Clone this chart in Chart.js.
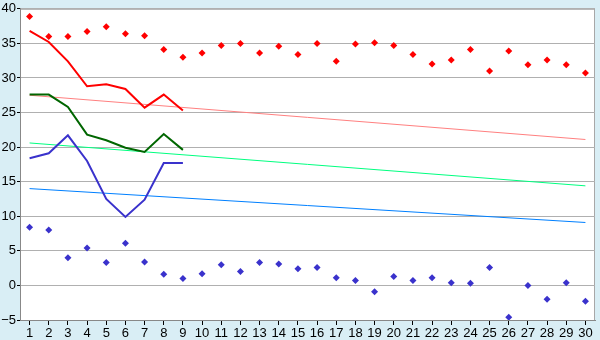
<!DOCTYPE html>
<html>
<head>
<meta charset="utf-8">
<script src="https://cdn.jsdelivr.net/npm/chart.js@4"></script>
<style>
  html, body { margin: 0; padding: 0; background: #d9eef5; }
  #wrap { width: 600px; height: 340px; }
</style>
</head>
<body>
<div id="wrap"><canvas id="chart" width="600" height="340"></canvas></div>
<script>
// ── DATA ─────────────────────────────────────────
const days = Array.from({ length: 30 }, (_, i) => String(i + 1));

const highPoints = [38.9, 36.0, 36.0, 36.7, 37.4, 36.4, 36.1, 34.1, 33.0, 33.6,
                    34.7, 35.0, 33.6, 34.6, 33.4, 35.0, 32.4, 34.9, 35.1, 34.7,
                    33.4, 32.0, 32.6, 34.1, 31.0, 33.9, 31.9, 32.6, 31.9, 30.7];
const lowPoints  = [8.4, 8.0, 4.0, 5.4, 3.3, 6.1, 3.4, 1.6, 1.0, 1.7,
                    3.0, 2.0, 3.3, 3.1, 2.4, 2.6, 1.1, 0.7, -0.9, 1.3,
                    0.7, 1.1, 0.4, 0.3, 2.6, -4.6, 0.0, -2.0, 0.4, -2.3];

const redLine   = [36.8, 35.2, 32.4, 28.8, 29.1, 28.4, 25.7, 27.6, 25.3];
const greenLine = [27.6, 27.6, 25.8, 21.8, 21.0, 19.9, 19.3, 21.9, 19.6];
const blueLine  = [18.4, 19.1, 21.7, 18.0, 12.5, 9.9, 12.4, 17.7, 17.7];

// trend lines: value at day 1 and day 30
const redTrend   = [27.5, 21.1];
const greenTrend = [20.6, 14.4];
const blueTrend  = [14.0, 9.1];

const yMin = -5, yMax = 40, yStep = 5;

// ── HELPERS ──────────────────────────────────────
function padTo30(arr) {
  return days.map((_, i) => (i < arr.length ? arr[i] : null));
}
function ends(pair) {
  return days.map((_, i) => (i === 0 ? pair[0] : i === days.length - 1 ? pair[1] : null));
}

const plotBg = {
  id: 'plotBg',
  beforeDraw(chart) {
    const { ctx, chartArea: a } = chart;
    ctx.save();
    ctx.fillStyle = '#d9eef5';
    ctx.fillRect(0, 0, chart.width, chart.height);
    ctx.fillStyle = '#ffffff';
    ctx.fillRect(a.left, a.top, a.right - a.left, a.bottom - a.top);
    ctx.strokeStyle = '#a8a8a8';
    ctx.lineWidth = 1;
    ctx.strokeRect(a.left + 0.5, a.top + 0.5, a.right - a.left - 1, a.bottom - a.top);
    ctx.restore();
  },
};

function lineSet(data, color, width, order) {
  return {
    data, borderColor: color, backgroundColor: color, borderWidth: width,
    pointRadius: 0, fill: false, tension: 0, spanGaps: true, order,
  };
}
function pointSet(data, color) {
  return {
    data, showLine: false, borderColor: color, backgroundColor: color,
    pointStyle: 'rectRot', pointRadius: 3.5, borderWidth: 0, order: 0,
  };
}

const font = { family: 'Liberation Sans', size: 13 };

// ── CHART ────────────────────────────────────────
new Chart(document.getElementById('chart').getContext('2d'), {
  type: 'line',
  data: {
    labels: days,
    datasets: [
      pointSet(highPoints, '#ff0000'),
      pointSet(lowPoints, '#3a32cc'),
      lineSet(padTo30(redLine), '#ff0000', 2, 1),
      lineSet(padTo30(greenLine), '#006600', 2, 1),
      lineSet(padTo30(blueLine), '#3a32cc', 2, 1),
      lineSet(ends(redTrend), '#ff8080', 1, 2),
      lineSet(ends(greenTrend), '#00ff80', 1, 2),
      lineSet(ends(blueTrend), '#0080ff', 1, 2),
    ],
  },
  options: {
    responsive: false,
    animation: false,
    layout: { padding: { top: 5, right: 5, left: 0, bottom: 0 } },
    plugins: { legend: { display: false }, tooltip: { enabled: false } },
    scales: {
      x: {
        offset: true,
        afterFit: s => { s.height = 20; },
        grid: { drawOnChartArea: false, drawTicks: true, tickLength: 5, color: '#000', offset: false },
        border: { color: '#888888' },
        ticks: { color: '#000', font, padding: 1, maxRotation: 0, autoSkip: false },
      },
      y: {
        min: yMin, max: yMax,
        afterFit: s => { s.width = 20; },
        grid: { color: '#b0b0b0', tickLength: 3, drawTicks: true, tickColor: '#000' },
        border: { color: '#888888' },
        ticks: {
          stepSize: yStep, color: '#000', font, padding: 1,
          callback: v => (v < 0 ? '\u2212' + (-v) : String(v)),
        },
      },
    },
  },
  plugins: [plotBg],
});
</script>
</body>
</html>
